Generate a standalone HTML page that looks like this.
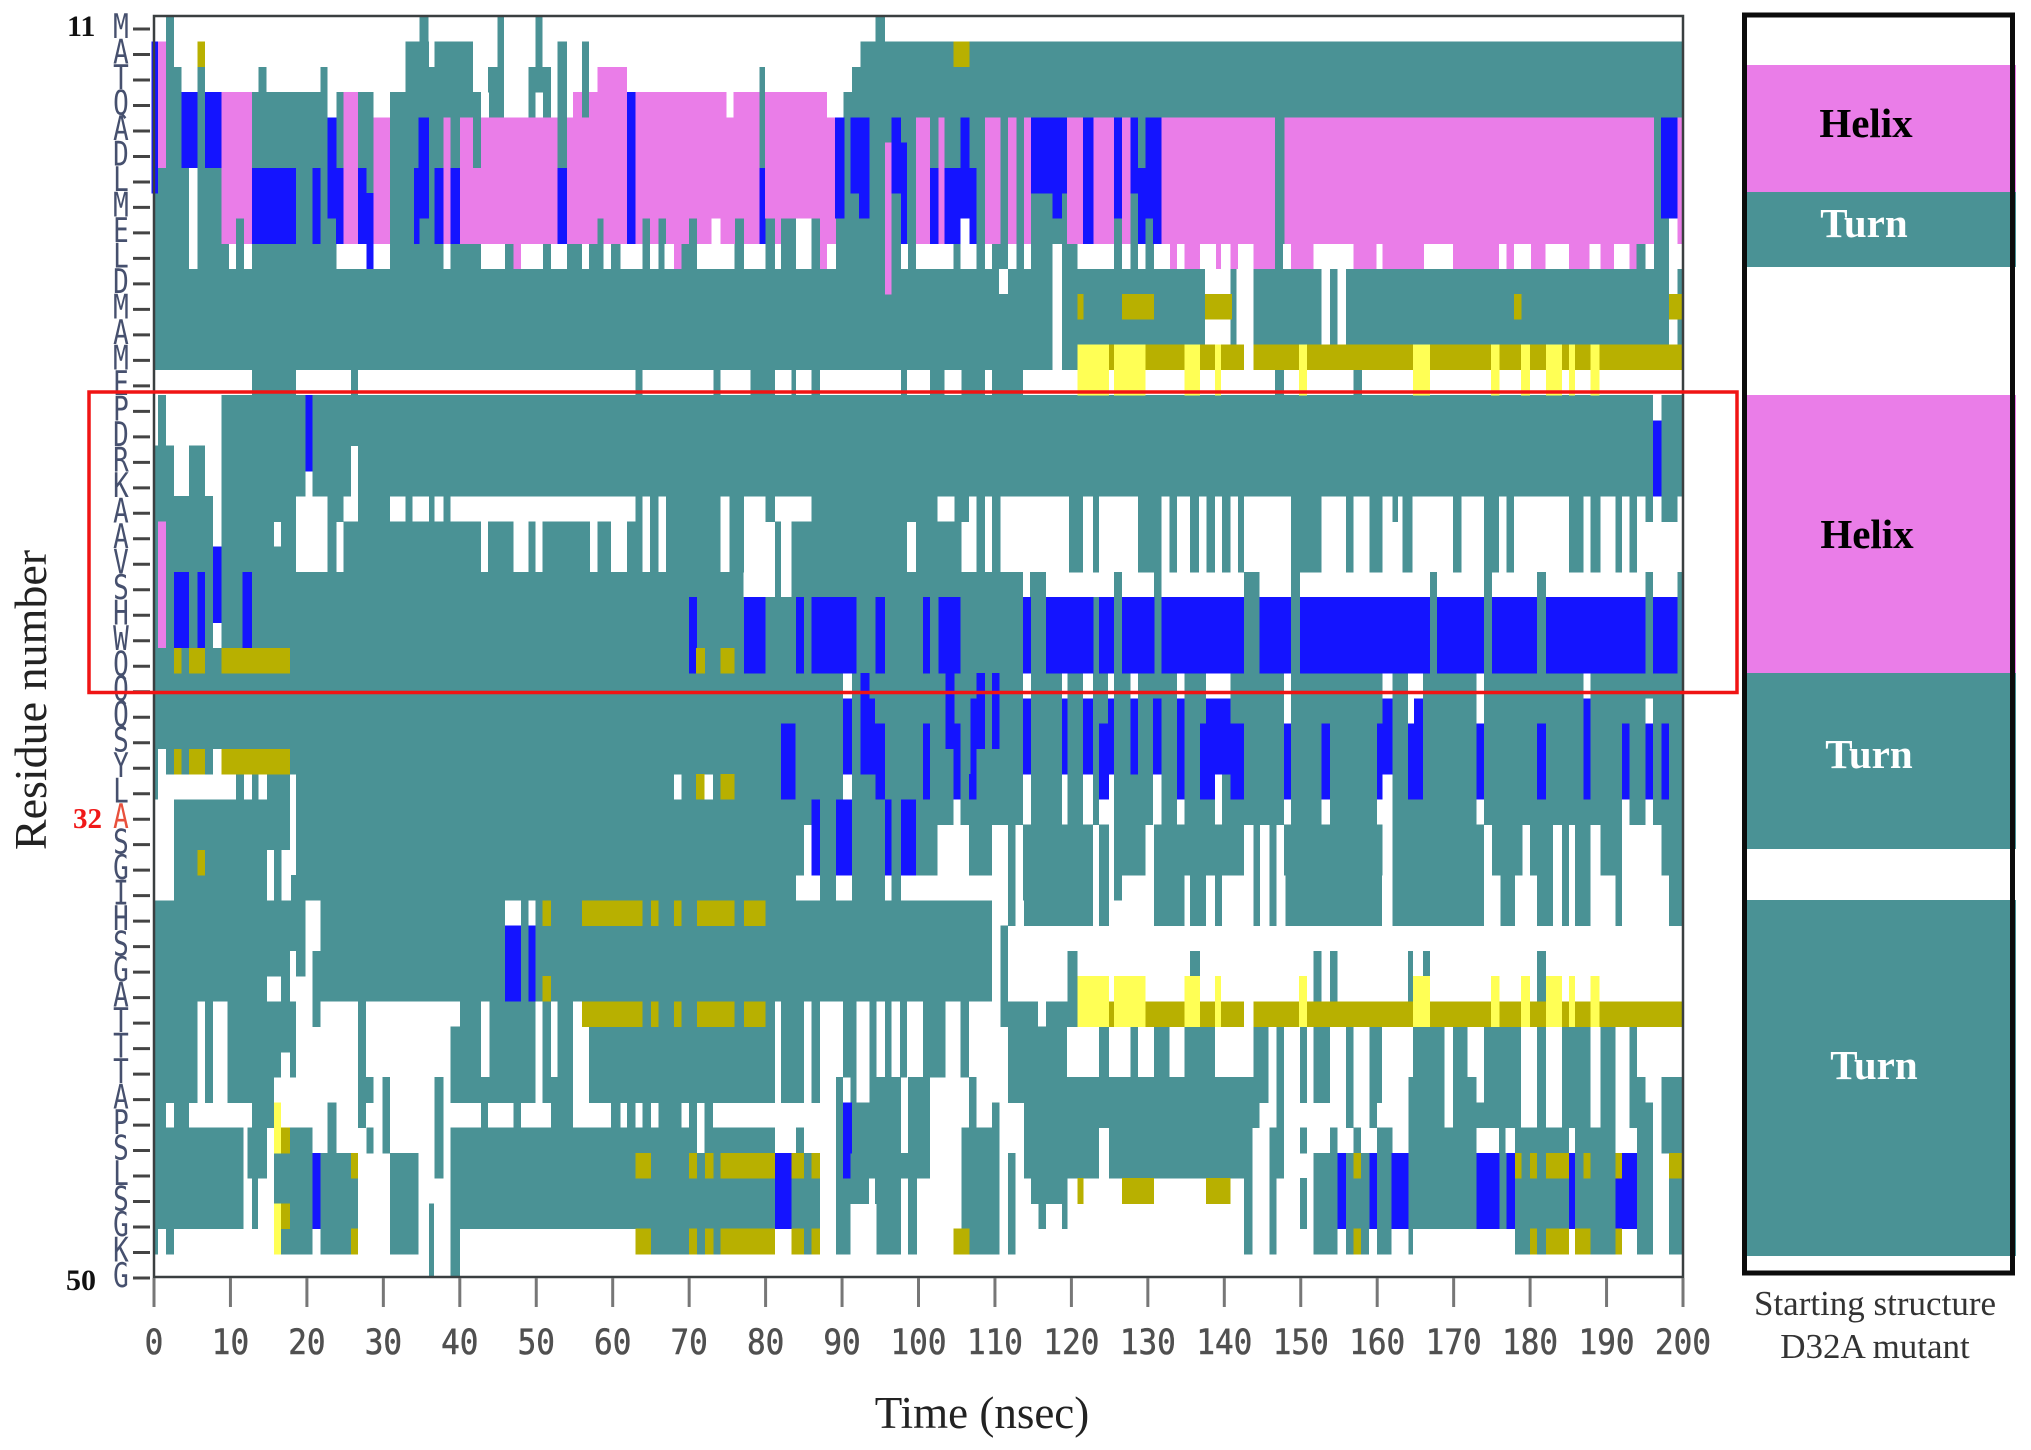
<!DOCTYPE html>
<html lang="en">
<head>
<meta charset="utf-8">
<title>Secondary structure timeline, D32A mutant</title>
<style>
html,body{margin:0;padding:0;background:#fff;}
#stage{display:block;width:2031px;height:1450px;}
text{font-family:"Liberation Serif",serif;}
</style>
</head>
<body>
<svg id="stage" xmlns="http://www.w3.org/2000/svg" width="2031" height="1450" viewBox="0 0 2031 1450">
  <defs><clipPath id="plot-clip"><rect x="151" y="16" width="1532" height="1261"/></clipPath></defs>
  <rect x="0" y="0" width="2031" height="1450" fill="#ffffff"/>
  <g id="cells" clip-path="url(#plot-clip)" shape-rendering="crispEdges"></g>
  <rect x="154" y="16" width="1529" height="1261" fill="none" stroke="#3a3f40" stroke-width="2.5"/>
  <g id="y-ticks"></g>
  <g id="x-ticks"></g>
  <text x="67" y="36" font-size="30" font-weight="bold" fill="#111">11</text>
  <text x="73" y="828" font-size="29" font-weight="bold" fill="#f01818">32</text>
  <text x="66" y="1290" font-size="30" font-weight="bold" fill="#111">50</text>
  <text transform="translate(46,700) rotate(-90)" text-anchor="middle" font-size="46" fill="#222">Residue number</text>
  <text x="982" y="1428" text-anchor="middle" font-size="45" fill="#222">Time (nsec)</text>
  <rect x="89" y="392" width="1648" height="300.5" fill="none" stroke="#f01414" stroke-width="3.5"/>

  <g>
    <rect x="1747" y="65" width="269" height="127" fill="#ea7de8"/>
    <rect x="1747" y="192" width="269" height="75" fill="#4a9295"/>
    <rect x="1747" y="395" width="269" height="278" fill="#ea7de8"/>
    <rect x="1747" y="673" width="269" height="176" fill="#4a9295"/>
    <rect x="1747" y="900" width="269" height="356" fill="#4a9295"/>
    <rect x="1744.5" y="15" width="268" height="1258" fill="none" stroke="#0c0c0c" stroke-width="5"/>
    <text x="1866" y="137" text-anchor="middle" font-size="41" font-weight="bold" fill="#000">Helix</text>
    <text x="1864" y="237" text-anchor="middle" font-size="41" font-weight="bold" fill="#fff">Turn</text>
    <text x="1867" y="548" text-anchor="middle" font-size="41" font-weight="bold" fill="#000">Helix</text>
    <text x="1869" y="768" text-anchor="middle" font-size="41" font-weight="bold" fill="#fff">Turn</text>
    <text x="1874" y="1079" text-anchor="middle" font-size="41" font-weight="bold" fill="#fff">Turn</text>
  </g>
  <text x="1875" y="1315" text-anchor="middle" font-size="35" fill="#333">Starting structure</text>
  <text x="1875" y="1358" text-anchor="middle" font-size="35" fill="#333">D32A mutant</text>
</svg>

<script>
const residues = ["M","A","T","Q","A","D","L","M","E","L","D","M","A","M","E","P","D","R","K","A","A","V","S","H","W","Q","Q","Q","S","Y","L","A","S","G","I","H","S","G","A","T","T","T","A","P","S","L","S","G","K","G"];
const timeTicks = [0,10,20,30,40,50,60,70,80,90,100,110,120,130,140,150,160,170,180,190,200];

/* Shared stretches, in nanoseconds (start,end pairs). */
const blueBand = [70,71,77.2,80,84,85,86,91.9,94.4,95.6,100.6,101.5,102.6,105.5,113.7,114.7,116.7,122.9,123.6,125.6,126.6,130.9,131.8,142.6,144.6,148.7,149.9,166.9,167.8,174,175,180.9,182.1,195.1,196.1,199.3];
const yellowBand = [120.8,124.9,125.6,129.7,134.8,136.8,138.8,139.6,149.8,150.8,164.7,166.9,174.9,176,178.8,180,182.1,184.2,185.1,185.9,187.9,189.1];
const oliveBand = [124.9,125.6,129.7,134.8,136.8,138.8,139.6,142.6,143.8,149.8,150.8,164.7,166.9,174.9,176,178.8,180,182.1,184.2,185.1,185.9,187.9,189.1,200];
const helixRight = [99.7,101.5,102.6,103.4,108.7,110.7,111.7,112.8,113.8,114.7,119.4,121.5,122.9,125.6,126.6,127.7,131.8,146.6,147.9,196.2,199.3,200];

/* Turn state: [rowIndex, [start,end, start,end, ...]] */
const turnRows = [
[0,[1.6,2.6,34.7,35.9,44.9,45.8,49.9,50.8,94.4,95.6]],
[1,[1.6,2.6,32.9,36,36.7,41.7,44.9,45.8,49.9,50.8,52.8,54,56,56.9,92.4,200]],
[2,[1.6,3.6,5.7,6.7,13.7,14.7,21.8,22.7,32.9,41.7,43.7,45.8,49,51.9,52.8,54,56,56.9,79.2,79.9,91.3,200]],
[3,[1.6,22.7,23.9,24.8,26.7,28.7,30.9,42.8,43.8,45.8,49,49.9,50.9,51.9,52.8,54,56,56.9,79.2,79.9,90.2,200]],
[4,[0,200]],
[5,[0,200]],
[6,[0,4.6,5.7,200]],
[7,[0,4.6,5.7,200]],
[8,[0,4.6,5.7,72.9,74.1,84,86,105.5,106.7,198.2,199.3,200]],
[9,[0,4.6,5.7,9.8,10.7,11.8,12.8,23.9,27.8,28.7,30.9,37.9,38.8,42.8,45.9,48,50.9,51.9,54,56,56.9,58.8,59.8,61,63.9,64.9,66,66.8,68,71,75.9,77.2,80,81.2,82,84,86,88,89.2,97.7,98.6,99.7,104.6,105.5,107.6,108.7,109.6,111.7,112.8,113.8,114.7,117.5,118.8,120.8,125.6,126.6,127.7,128.7,129.7,130.8,146.6,147.7,193.9,195.1,196.2,198.2]],
[10,[0,110.5,111.7,117.5,118.8,137.5,140.8,141.6,143.8,152.7,153.8,154.8,155.9,198.2,199.3,200]],
[11,[0,117.5,118.8,137.5,140.8,141.6,143.8,152.7,153.8,154.8,155.9,198.2]],
[12,[0,117.5,118.8,137.5,140.8,141.6,143.8,152.7,153.8,154.8,155.9,198.2,199.3,200]],
[13,[0,117.5,118.8,120.8]],
[14,[12.8,18.6,25.8,26.7,63,63.9,73.2,74.1,78,81.2,83.4,84,86,87.1,97.7,98.5,101.5,103.4,105.6,108.7,109.6,113.7,146.6,147.8,156.9,158]],
[15,[0.5,1.6,8.8,196.1,197.2,200]],
[16,[0.5,1.6,8.8,200]],
[17,[0,2.6,4.6,6.7,8.8,25.8,26.7,200]],
[18,[0,2.6,4.6,6.7,8.8,19.8,20.7,25.8,26.7,200]],
[19,[0,7.7,8.8,18.6,22.7,24.8,26.7,30.9,32.9,33.8,36,36.7,37.9,38.8,63,63.9,64.9,66,67,74.1,75.3,77.2,80,81.2,86,102.5,104.7,106.6,107.6,108.7,109.6,110.7,119.7,121.5,122.8,123.6,128.7,131.8,132.8,133.8,135.5,136.7,137.7,138.8,139.7,140.8,141.8,142.6,148.7,152.7,155.9,156.9,159,160.7,162,162.7,163.3,164.6,169.9,171,174,175.9,176.9,177.9,185.1,187,187.9,189.2,191.2,192,193,194,195.1,196.1,197.2,199.3]],
[20,[0,7.7,8.8,15.7,16.6,18.6,22.7,23.9,24.8,42.8,43.7,47,49,49.9,50.8,57,58,59.8,61.9,63.9,64.9,66,67,74.1,75.3,77.2,81.2,82,83.4,98.5,99.7,105.6,107.6,108.7,109.6,110.7,119.7,121.5,122.8,123.6,128.7,131.8,132.8,133.8,135.5,136.7,137.7,138.8,139.7,140.8,141.8,142.6,148.7,152.7,155.9,156.9,159,160.7,163.3,164.6,169.9,171,174,175.9,176.9,177.9,185.1,187,187.9,189.2,191.2,192,193,194]],
[21,[0,7.7,8.8,18.6,22.7,23.9,24.8,42.8,43.7,47,49,49.9,50.8,57,58,59.8,61.9,63.9,64.9,66,67,74.1,75.3,77.2,81.2,82,83.4,98.5,99.7,105.6,107.6,108.7,109.6,110.7,119.7,121.5,122.8,123.6,128.7,131.8,132.8,133.8,135.5,136.7,137.7,138.8,139.7,140.8,141.8,142.6,148.7,152.7,155.9,156.9,159,160.7,163.3,164.6,169.9,171,174,175.9,176.9,177.9,185.1,187,187.9,189.2,191.2,192,193,194]],
[22,[0,77.1,81.2,82,83.4,113.7,114.6,116.7,125.6,126.6,130.8,131.8,142.6,144.6,148.7,149.9,166.9,167.8,174,175,180.9,182.1,195.1,196.1,199.3,200]],
[23,[0,200]],
[24,[0,7.7,8.8,200]],
[25,[0,200]],
[26,[0,90.1,91.3,113.7,114.7,118.8,119.5,121.5,122.8,124.8,125.6,127.7,128.7,133.8,134.8,137.6,140.8,147.8,148.7,160.7,162,164,166,173,174,187,187.9,200]],
[27,[0,147.8,148.7,164,164.8,173,174,195.1,196.1,200]],
[28,[0,200]],
[29,[0,0.5,1.6,7.7,8.8,200]],
[30,[0,0.5,10.7,11.8,12.8,13.7,14.8,17.8,18.6,68,69,72,73.1,90.1,91.3,113.7,114.7,118.8,119.5,121.5,122.8,124.9,125.6,130.7,131.8,138.8,139.7,160.7,162,173,174,187,187.9,200]],
[31,[2.6,17.8,18.6,104.6,105.5,113.7,114.7,118.8,119.5,121.5,122.8,123.6,125.6,130.7,131.8,133.8,134.8,138.8,139.7,147.8,148.7,152.7,153.8,160,162,173,174,192,193,195.1,196.1,200]],
[32,[2.6,17.8,18.6,85,86,102.5,106.6,109.6,111.7,112.7,113.7,122.8,123.6,124.9,125.6,129.7,130.8,142.6,143.8,144.7,145.9,146.8,147.8,160.7,162,174,175,179,180,183,184.2,185.1,185.9,187.9,189.2,192,197.2,200]],
[33,[2.6,14.8,15.7,16.7,18.6,85,86,102.5,106.6,109.6,111.7,112.7,113.7,122.8,123.6,124.9,125.6,129.7,130.8,142.6,143.8,144.7,145.9,146.8,147.8,160.7,162,174,175,179,180,183,184.2,185.1,185.9,187.9,189.2,192,197.2,200]],
[34,[2.6,14.8,15.7,16.7,17.9,84,87.1,89.2,91.3,95.6,96.5,97.7,111.7,112.7,113.7,122.8,123.6,124.9,125.6,126.6,130.8,134.8,135.5,137.6,138.8,139.7,143.8,144.7,145.9,146.8,148,160.6,162,174,176.1,178,180.9,183,184.2,185.1,185.9,187.9,191.2,192,198.2,200]],
[35,[0,19.8,21.8,45.9,48,49,49.9,109.6,111.7,112.7,113.8,122.8,123.6,124.9,130.8,134.8,135.5,137.6,138.8,139.7,143.8,144.7,145.9,146.8,148,160.6,162,174,176.1,178,180.9,183,184.2,185.1,185.9,187.9,191.2,192,198.2,200]],
[36,[0,19.8,21.8,109.6,110.7,111.7]],
[37,[0,17.8,18.6,19.8,20.7,109.6,110.7,111.7,119.5,120.8,135.5,136.8,151.7,152.7,153.8,154.8,164,164.7,166,166.9,180.9,182.1]],
[38,[0,14.8,16.6,17.8,20.7,109.6,110.7,111.7,119.5,120.8,151.7,152.7,153.8,154.8,164,164.7,180.9,182.1]],
[39,[0,5.7,6.7,7.7,9.6,18.6,20.7,21.8,26.7,27.7,40,42.8,43.9,49.9,50.8,51.9,52.8,54.8,56,81.2,82,85,86,87.1,90.1,91.9,93.6,94.5,95.6,96.5,97.6,98.5,100.6,103.5,105.5,106.6,110.7,115.6,116.7,120.8]],
[40,[0,5.7,6.7,7.7,9.6,18.6,26.7,27.7,38.8,42.8,43.9,49.9,50.8,51.9,52.8,54.8,56.9,81.2,82,85,86,87.1,90.1,91.9,93.6,94.5,95.6,96.5,97.6,98.5,100.6,103.5,105.5,106.6,111.7,119.4,123.6,124.9,127.7,128.7,130.8,132.8,134.8,138.8,143.8,145.8,146.8,147.8,149.9,150.8,151.7,153.8,155.9,156.9,159,160.6,164.7,168.8,169.9,171.8,174,178.8,180.9,182.1,184.2,187.9,189.2,191.2,193,194]],
[41,[0,5.7,6.7,7.7,9.6,16.6,17.8,18.6,26.7,27.7,38.8,42.8,43.9,49.9,50.8,51.9,52.8,54.8,56.9,81.2,82,85,86,87.1,90.1,91.9,93.6,94.5,95.6,96.5,97.6,98.5,100.6,103.5,105.5,106.6,111.7,119.4,123.6,124.9,127.7,128.7,130.8,132.8,134.8,138.8,143.8,145.8,146.8,147.8,149.9,150.8,151.7,153.8,155.9,156.9,159,160.6,164.7,168.8,169.9,171.8,174,178.8,180.9,182.1,184.2,187.9,189.2,191.2,193,194]],
[42,[0,5.7,6.7,7.7,9.6,15.7,26.7,28.7,29.9,30.9,36.7,37.9,38.8,49.9,50.8,54.8,56.9,81.2,82,85,86,87.1,89.2,90.1,91.1,91.9,93.6,97.7,98.6,101.5,106.6,107.6,111.7,145.8,146.8,147.8,149.9,150.8,151.7,153.8,155.9,156.9,159,160.6,164.1,168.8,169.9,173,174,178.8,180.9,182.1,184.2,187.9,189.2,191.2,193,195.1,197.2,200]],
[43,[0,1.6,2.6,4.6,12.8,15.7,22.7,23.9,26.7,27.7,29.9,30.9,36.7,37.9,42.8,43.7,47,48,51.9,54.8,59.8,61,61.9,63,63.9,65,66,69,70,71,72,73.1,89.2,90.1,91.3,97.7,98.6,101.5,106.6,107.6,109.6,110.6,113.8,144.6,146.8,147.8,155.9,156.9,159,160,164.1,168.8,169.9,178.8,180.9,182.1,184.2,187.9,189.2,191.2,193,196.1,197.2,200]],
[44,[0,11.7,12.2,14.8,16.6,20.7,22.7,23.9,27.8,28.7,29.9,30.9,36.7,37.9,38.8,71,72,81.2,84,85,89.2,97.7,98.6,101.5,105.6,110.6,113.8,123.6,124.9,143.7,145.9,147.8,149.9,150.8,153.8,154.8,156.9,157.9,160,162,164.1,173,175.9,176.8,178,185.1,185.9,191.2,194,196.1,197.2,200]],
[45,[0,11.7,12.2,14.8,15.7,25.8,30.9,34.6,36.7,37.9,38.8,87.1,89.2,101.5,105.6,110.6,111.7,112.7,113.8,123.6,124.9,143.7,145.9,147.8,151.7,196.1]],
[46,[0,11.7,12.8,13.6,15.7,26.7,30.9,34.6,38.8,87.1,89.2,93.5,94.3,97.7,98.6,99.8,105.6,110.6,111.7,112.7,114.7,119.5,142.6,143.7,145.9,146.8,149.9,150.8,151.7,196.1,198.2,200]],
[47,[0,11.7,12.8,13.6,16.6,26.7,30.9,34.6,36,36.6,38.8,87.1,89.2,91.1,94.5,97.7,98.6,99.8,105.6,110.6,111.7,112.7,115.7,116.7,118.8,119.5,142.6,143.7,145.9,146.8,149.9,150.8,151.7,196.1,198.2,200]],
[48,[0,0.5,1.6,2.6,16.6,20.7,21.8,25.8,30.9,34.6,36,36.6,38.8,40,65,81.2,83.4,87.1,89.2,91.1,94.5,97.7,98.6,99.8,106.7,110.6,111.7,112.7,142.6,143.7,145.9,146.8,151.7,154.8,155.9,158.9,160,161.9,164.1,164.7,178,185.1,185.9,191.2,194,196.1,198.2,200]],
[49,[36,36.6,38.8,40]]
];

/* Helix state */
const helixRows = [
[1,[0.5,1.6]],
[2,[0.5,1.6,58,61.9]],
[3,[0.5,1.6,8.8,12.8,24.8,26.7,54.8,56,56.9,61.9,63,74.9,75.8,79.2,79.9,88]],
[4,[0.5,1.6,8.8,12.8,24.8,26.7,28.7,30.9,37.9,38.8,40,41.7,42.8,52.8,54,61.9,63,79.2,79.9,89.1,...helixRight]],
[5,[0.5,1.6,8.8,12.8,24.8,26.7,28.7,30.9,37.9,38.8,40,41.7,42.8,52.8,54,61.9,63,79.2,79.9,89.1,95.6,96.5,...helixRight]],
[6,[8.8,12.8,24.8,26.7,28.7,30.9,37.9,38.8,40,52.8,54,61.9,63,79.2,79.9,89.1,95.6,96.5,...helixRight]],
[7,[8.8,12.8,24.8,26.7,28.7,30.9,37.9,38.8,40,52.8,54,61.9,63,79.2,79.9,89.1,95.6,96.5,...helixRight]],
[8,[8.8,10.7,11.8,12.8,24.8,26.7,28.7,30.9,37.9,38.8,40,58,58.8,61.9,63,63.9,64.9,66,67,70,71,72.9,74.1,76,77.2,79.2,81.2,82,87.1,89.2,95.6,96.5,...helixRight]],
[9,[47,48,68,69,87.1,88,95.6,96.5,132.9,133.8,134.8,136.8,138.9,139.6,140.8,141.8,143.8,146.6,148.7,151.7,156.9,159.9,160.7,166.1,169.9,175.9,176.9,177.9,180.1,182,185.1,187.8,189.2,191,193,193.9]],
[10,[95.6,96.5]],
[20,[0.5,1.6]],
[21,[0.5,1.6]],
[22,[0.5,1.6]],
[23,[0.5,1.6]],
[24,[0.5,1.6]]
];

/* 3-10 helix state */
const blueRows = [
[1,[-0.3,0.5]],
[2,[-0.3,0.5]],
[3,[-0.3,0.5,3.6,5.7,6.7,8.8,61.9,63]],
[4,[-0.3,0.5,3.6,5.7,6.7,8.8,22.7,23.9,34.6,36,61.9,63,89.1,90.3,91.1,93.6,96.5,97.7,105.5,106.7,114.7,119.4,121.5,122.9,125.6,126.6,127.7,128.7,129.7,131.8,197.1,199.3]],
[5,[-0.3,0.5,3.6,5.7,6.7,8.8,22.7,23.9,34.6,36,61.9,63,89.1,90.3,91.1,93.6,96.5,98.5,105.5,106.7,114.7,119.4,121.5,122.9,125.6,126.6,127.7,128.7,129.7,131.8,197.1,199.3]],
[6,[-0.3,0.5,12.8,18.6,20.7,21.8,22.7,24.8,26.7,27.8,34,36,36.7,37.9,38.8,40,52.8,54,61.9,63,79.2,79.9,89.1,90.3,91.1,93.6,96.5,98.5,101.5,102.6,103.4,107.6,114.7,119.4,121.5,122.9,125.6,126.6,127.7,131.8,197.1,199.3]],
[7,[12.8,18.6,20.7,21.8,22.7,24.8,26.7,28.7,34,36,36.7,37.9,38.8,40,52.8,54,61.9,63,79.2,79.9,89.1,90.3,92.2,93.6,97.7,98.5,101.5,102.6,103.4,107.6,117.5,118.8,121.5,122.9,125.6,126.6,128.7,131.8,197.1,199.3]],
[8,[12.8,18.6,20.7,21.8,23.8,24.8,26.7,28.7,34,34.7,36.7,37.9,38.8,40,52.8,54,61.9,63,79.2,80,97.7,98.5,101.5,102.6,103.4,105.5,106.7,107.6,121.5,122.9,128.7,129.7,130.7,131.8]],
[9,[27.8,28.7]],
[15,[19.8,20.7]],
[16,[19.8,20.7,196.1,197.2]],
[17,[19.8,20.7,196.1,197.2]],
[18,[196.1,197.2]],
[21,[7.7,8.8]],
[22,[2.6,4.6,5.7,6.7,7.7,8.8,11.6,12.8]],
[23,[2.6,4.6,5.7,6.7,7.7,8.8,11.6,12.8,...blueBand]],
[24,[2.6,4.6,5.7,6.7,11.6,12.8,...blueBand]],
[25,[...blueBand]],
[26,[92.4,93.6,103.5,104.7,107.6,108.7,109.6,110.6]],
[27,[90.1,91.3,92.4,94.3,103.5,104.7,106.8,108.7,109.6,110.6,113.7,114.7,118.8,119.5,121.5,122.8,124.8,125.6,127.7,128.7,130.7,131.8,133.8,134.8,137.6,140.8,160.7,162,164.8,166,187,187.9]],
[28,[82,83.9,90.1,91.3,92.4,95.6,100.6,101.5,103.5,105.5,106.8,108.7,109.6,110.6,113.7,114.7,118.8,119.5,121.5,122.8,123.6,125.6,127.7,128.7,130.7,131.8,133.8,134.8,136.8,142.6,147.8,148.7,152.7,153.8,160,162,164,166,173,174,180.9,182.1,187,187.9,192,193,195.1,196.1,197.2,198.2]],
[29,[82,83.9,90.1,91.3,92.4,95.6,100.6,101.5,104.6,105.5,106.8,107.6,113.7,114.7,118.8,119.5,121.5,122.8,123.6,125.6,127.7,128.7,130.7,131.8,133.8,134.8,136.8,142.6,147.8,148.7,152.7,153.8,160,162,164,166,173,174,180.9,182.1,187,187.9,192,193,195.1,196.1,197.2,198.2]],
[30,[82,83.9,94.4,95.6,100.6,101.5,104.6,105.5,106.6,107.6,123.6,124.9,133.8,134.8,136.8,138.8,140.8,142.6,147.8,148.7,152.7,153.8,160,160.7,164,166,173,174,180.9,182.1,187,187.9,192,193,195.1,196.1,197.2,198.2]],
[31,[86,87.1,89.2,91.3,95.6,96.5,97.7,99.7]],
[32,[86,87.1,89.2,91.3,95.6,96.5,97.7,99.7]],
[33,[86,87.1,89.2,91.3,95.6,96.5,97.7,99.7]],
[36,[45.9,48,49,49.9]],
[37,[45.9,48,49,49.9]],
[38,[45.9,48,49,49.9]],
[43,[90.1,91.3]],
[44,[90.1,91.3]],
[45,[20.7,21.8,81.2,83.4,90.1,91.1,154.8,155.9,159,160,161.9,164.1,173,176,176.9,178,185.1,185.9,192,194]],
[46,[20.7,21.8,81.2,83.4,154.8,155.9,159,160,161.9,164.1,173,176,176.9,178,185.1,185.9,191.2,194]],
[47,[20.7,21.8,81.2,83.4,154.8,155.9,159,160,161.9,164.1,173,176,176.9,178,185.1,185.9,191.2,194]]
];

/* Extended beta state */
const oliveRows = [
[1,[5.7,6.7,104.6,106.7]],
[11,[120.8,121.6,126.6,130.8,137.5,141,177.9,178.9,198.2,200]],
[13,[...oliveBand]],
[25,[2.6,3.6,4.6,6.7,8.8,17.8,70.9,72.1,74.1,75.9]],
[29,[2.6,3.6,4.6,6.7,8.8,17.8]],
[30,[70.9,72,74.1,75.9]],
[33,[5.7,6.7]],
[35,[50.8,51.9,56,63.9,65,66,68,69,71,75.9,77.2,80]],
[38,[50.8,51.9]],
[39,[56,63.9,65,66,68,69,71,75.9,77.2,80,...oliveBand]],
[44,[16.6,17.8]],
[45,[25.8,26.7,63,65,70,71,72.1,73.2,74.1,81.2,83.4,85,86,87.1,156.9,157.9,178,178.9,180,180.9,182.1,185.1,187,187.9,191.2,192,198.2,200]],
[46,[120.8,121.6,126.6,130.8,137.6,140.8]],
[47,[16.6,17.8]],
[48,[25.8,26.7,63,65,70,71,72.1,73.2,74.1,81.2,83.4,85,86,87.1,104.6,106.7,156.9,157.9,180,180.9,182.1,185.1,185.9,187.9,191.2,192]]
];

/* Isolated bridge state */
const yellowRows = [
[13,[...yellowBand]],
[14,[...yellowBand]],
[38,[...yellowBand]],
[39,[...yellowBand]],
[43,[15.7,16.6]],
[44,[15.7,16.6]],
[47,[15.7,16.6]],
[48,[15.7,16.6]]
];

const svgNS = "http://www.w3.org/2000/svg";
const plotLeft = 154, plotRight = 1683, plotBottom = 1277;
function xScale(ns){ return plotLeft + (plotRight - plotLeft) * ns / 200; }
function rowTop(row){ return 16.25 + 25.26 * row; }
function rowTick(row){ return 29 + 25.49 * row; }

function drawState(rows, colour, stateName){
  const parent = document.getElementById("cells");
  rows.forEach(function(entry){
    const row = entry[0], spans = entry[1];
    for(let i = 0; i + 1 < spans.length; i += 2){
      const r = document.createElementNS(svgNS, "rect");
      
      
      r.setAttribute("x", xScale(spans[i]));
      r.setAttribute("y", rowTop(row));
      r.setAttribute("width", xScale(spans[i + 1]) - xScale(spans[i]));
      r.setAttribute("height", 25.6);
      r.setAttribute("fill", colour);
      parent.appendChild(r);
    }
  });
}
drawState(turnRows, "#4a9295", "turn");
drawState(helixRows, "#ea7de8", "helix");
drawState(blueRows, "#1414ff", "three-ten-helix");
drawState(oliveRows, "#b8b000", "beta");
drawState(yellowRows, "#ffff55", "bridge");

const yG = document.getElementById("y-ticks");
residues.forEach(function(letter, i){
  const y = rowTick(i);
  const tick = document.createElementNS(svgNS, "line");
  
  
  tick.setAttribute("x1", 133);
  tick.setAttribute("x2", 150);
  tick.setAttribute("y1", y);
  tick.setAttribute("y2", y);
  tick.setAttribute("stroke", "#444");
  tick.setAttribute("stroke-width", 3);
  yG.appendChild(tick);
  const t = document.createElementNS(svgNS, "text");
  
  
  t.setAttribute("transform", "translate(121," + (y + 9) + ") scale(1,1.3)");
  t.setAttribute("text-anchor", "middle");
  t.setAttribute("font-size", 26);
  t.setAttribute("style", 'font-family:"DejaVu Sans Mono","Liberation Mono",monospace');
  t.setAttribute("fill", i === 31 ? "#e8503c" : "#46506e");
  t.textContent = letter;
  yG.appendChild(t);
});

const xG = document.getElementById("x-ticks");
timeTicks.forEach(function(v){
  const x = xScale(v);
  const tick = document.createElementNS(svgNS, "line");
  
  
  tick.setAttribute("x1", x);
  tick.setAttribute("x2", x);
  tick.setAttribute("y1", 1278);
  tick.setAttribute("y2", 1307);
  tick.setAttribute("stroke", "#777");
  tick.setAttribute("stroke-width", 3);
  xG.appendChild(tick);
  const t = document.createElementNS(svgNS, "text");
  
  
  t.setAttribute("transform", "translate(" + x + ",1354) scale(1,1.13)");
  t.setAttribute("text-anchor", "middle");
  t.setAttribute("font-size", 31);
  t.setAttribute("style", 'font-family:"DejaVu Sans Mono","Liberation Mono",monospace');
  t.setAttribute("fill", "#505050");
  t.setAttribute("stroke", "#505050");
  t.setAttribute("stroke-width", 0.5);
  t.textContent = v;
  xG.appendChild(t);
});
</script>
</body>
</html>
